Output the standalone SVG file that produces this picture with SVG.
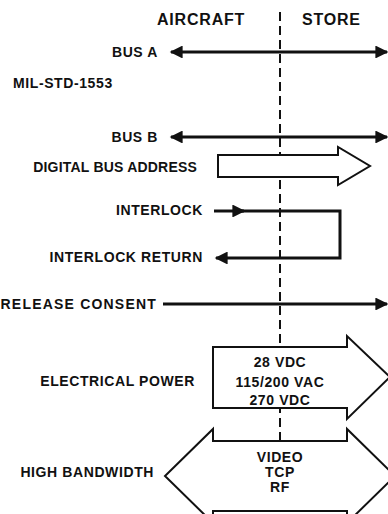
<svg xmlns="http://www.w3.org/2000/svg" width="388" height="514" viewBox="0 0 388 514">
<style>
text{font-family:"Liberation Sans",Arial,sans-serif;font-weight:bold;font-size:14px;fill:#111;letter-spacing:0.6px}
.lbl{text-anchor:end}
.mid{text-anchor:middle}
.hdr{font-size:16px;letter-spacing:0.8px}
.wire{fill:none;stroke:#111;stroke-width:3}
.blk{fill:#fff;stroke:#111;stroke-width:2;stroke-linejoin:miter}
.dash{stroke:#111;stroke-width:2;stroke-dasharray:9 5;fill:none}
.head{fill:#111}
</style>
<defs>
<marker id="ah" viewBox="0 0 10 10" refX="9" refY="5" markerWidth="5" markerHeight="4.3" orient="auto-start-reverse" markerUnits="strokeWidth">
<path d="M0,0 L10,5 L0,10 z" class="head"/>
</marker>
</defs>
<g id="divider">
<line class="dash" x1="280" y1="12" x2="280" y2="514"/>
</g>
<g id="headers">
<text class="hdr" x="157" y="25">AIRCRAFT</text>
<text class="hdr" x="302" y="25">STORE</text>
</g>
<g id="connectors">
<line class="wire" x1="171" y1="52" x2="387" y2="52" marker-start="url(#ah)" marker-end="url(#ah)"/>
<line class="wire" x1="171" y1="137" x2="387" y2="137" marker-start="url(#ah)" marker-end="url(#ah)"/>
<line class="wire" x1="214" y1="211" x2="244" y2="211" marker-end="url(#ah)"/>
<polyline class="wire" points="240,211 340,211 340,258 216,258" marker-end="url(#ah)"/>
<line class="wire" x1="163" y1="304" x2="387" y2="304" marker-end="url(#ah)"/>
</g>
<g id="bus-a"><text class="lbl" x="158" y="57">BUS A</text></g>
<g id="mil-std"><text x="13" y="88">MIL-STD-1553</text></g>
<g id="bus-b"><text class="lbl" x="158" y="142">BUS B</text></g>
<g id="digital-bus-address">
<text class="lbl" x="197" y="172" style="letter-spacing:0.2px">DIGITAL BUS ADDRESS</text>
<polygon class="blk" points="218,155 338,155 338,147 370,166 338,185 338,177 218,177"/>
</g>
<g id="interlock"><text class="lbl" x="203" y="215">INTERLOCK</text></g>
<g id="interlock-return"><text class="lbl" x="203" y="262">INTERLOCK RETURN</text></g>
<g id="release-consent"><text class="lbl" x="157" y="309" style="letter-spacing:1.2px">RELEASE CONSENT</text></g>
<g id="electrical-power">
<text class="lbl" x="195" y="386">ELECTRICAL POWER</text>
<polygon class="blk" points="213,347 347,347 347,336 390,377 347,419 347,408 213,408"/>
<text class="mid" x="280" y="367">28 VDC</text>
<text class="mid" x="280" y="387">115/200 VAC</text>
<text class="mid" x="280" y="405">270 VDC</text>
</g>
<g id="high-bandwidth">
<text class="lbl" x="154" y="477">HIGH BANDWIDTH</text>
<polygon class="blk" points="213,429 213,441 347,441 347,429 395,476 347,523 347,511 213,511 213,523 165,476"/>
<text class="mid" x="280" y="462">VIDEO</text>
<text class="mid" x="280" y="477">TCP</text>
<text class="mid" x="280" y="492">RF</text>
</g>
</svg>
